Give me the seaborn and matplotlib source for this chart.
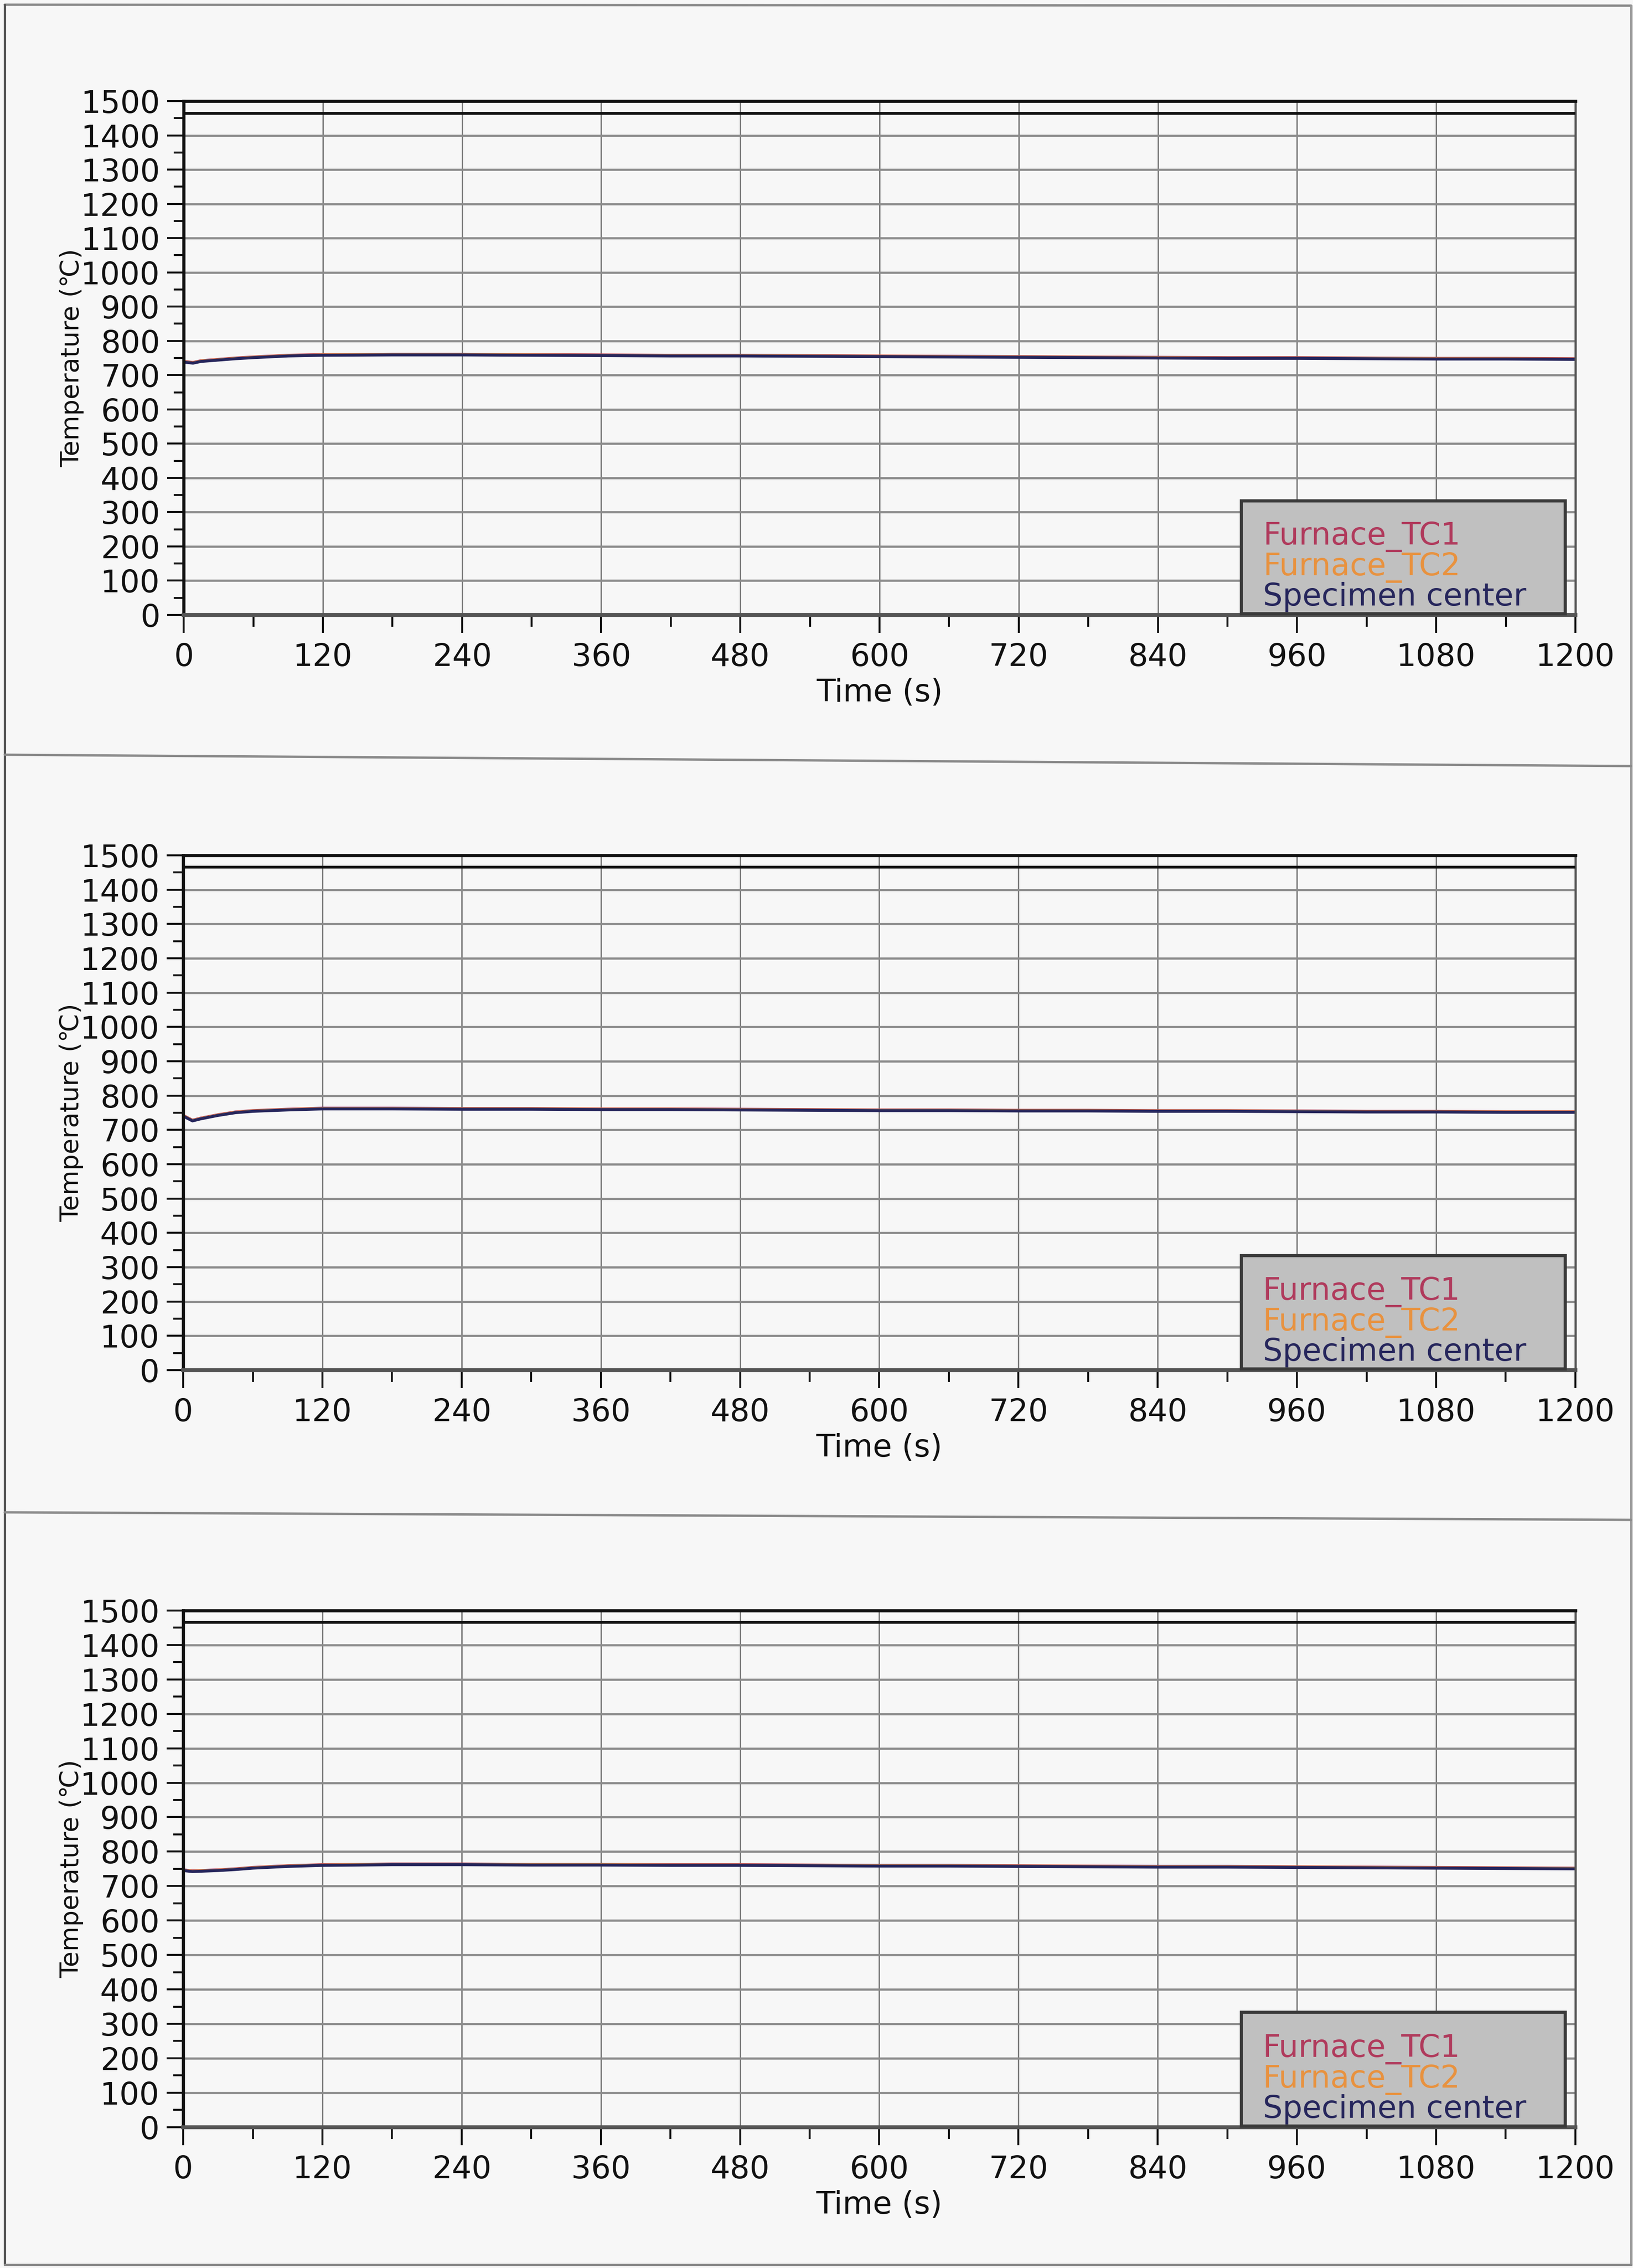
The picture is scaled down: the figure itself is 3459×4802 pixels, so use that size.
import matplotlib
matplotlib.use("Agg")
import numpy as np
import pandas as pd
import matplotlib.pyplot as plt
from matplotlib.lines import Line2D
from matplotlib.patches import Rectangle
from matplotlib.ticker import MultipleLocator
import seaborn as sns

# ---------------------------------------------------------------- data
SERIES = ["Furnace_TC1", "Furnace_TC2", "Specimen center"]
SERIES_COLORS = ["#b03a5c", "#e8923f", "#26265c"]

# sampling times (s), shared by the three tests
time_s = [0, 8, 15, 30, 45, 60, 90, 120, 180, 240, 300, 360, 420,
          480, 540, 600, 660, 720, 780, 840, 900, 960, 1020, 1080, 1140, 1200]

# test 1
t1_furnace_tc1 = [740, 737, 742, 746, 750, 753, 758, 760, 761, 761, 760, 759, 758,
                  758, 757, 756, 755, 754, 753, 752, 751, 751, 750, 749, 749, 748]
t1_furnace_tc2 = [739, 736, 741, 745, 749, 752, 757, 759, 760, 760, 759, 758, 757,
                  757, 756, 755, 754, 753, 752, 751, 750, 750, 749, 748, 748, 747]
t1_specimen = [738, 735, 740, 744, 748, 751, 756, 758, 759, 759, 758, 757, 756,
               756, 755, 754, 753, 752, 751, 750, 749, 749, 748, 747, 747, 746]

# test 2
t2_furnace_tc1 = [742, 728, 734, 744, 752, 756, 760, 763, 763, 762, 762, 761, 761,
                  760, 759, 758, 758, 757, 757, 756, 756, 755, 754, 754, 753, 753]
t2_furnace_tc2 = [741, 727, 733, 743, 751, 755, 759, 762, 762, 761, 761, 760, 760,
                  759, 758, 757, 757, 756, 756, 755, 755, 754, 753, 753, 752, 752]
t2_specimen = [740, 726, 732, 742, 750, 754, 758, 761, 761, 760, 760, 759, 759,
               758, 757, 756, 756, 755, 755, 754, 754, 753, 752, 752, 751, 751]

# test 3
t3_furnace_tc1 = [747, 744, 745, 747, 750, 754, 759, 762, 764, 764, 763, 763, 762,
                  762, 761, 760, 760, 759, 758, 757, 757, 756, 755, 754, 753, 752]
t3_furnace_tc2 = [746, 743, 744, 746, 749, 753, 758, 761, 763, 763, 762, 762, 761,
                  761, 760, 759, 759, 758, 757, 756, 756, 755, 754, 753, 752, 751]
t3_specimen = [745, 742, 743, 745, 748, 752, 757, 760, 762, 762, 761, 761, 760,
               760, 759, 758, 758, 757, 756, 755, 755, 754, 753, 752, 751, 750]

upper_line_level = 1465  # horizontal reference line near the top of each chart

x_ticks = [0, 120, 240, 360, 480, 600, 720, 840, 960, 1080, 1200]
y_ticks = list(range(0, 1501, 100))

tests = [
    (t1_furnace_tc1, t1_furnace_tc2, t1_specimen),
    (t2_furnace_tc1, t2_furnace_tc2, t2_specimen),
    (t3_furnace_tc1, t3_furnace_tc2, t3_specimen),
]

# ---------------------------------------------------------------- style
PAGE = "#f7f7f7"
sns.set_theme(style="ticks")
plt.rcParams["font.family"] = ["DejaVu Sans"]
plt.rcParams["figure.facecolor"] = PAGE
plt.rcParams["axes.facecolor"] = PAGE

W, H, DPI = 3459, 4802, 300
fig = plt.figure(figsize=(W / DPI, H / DPI), dpi=DPI)

# axes rectangles in figure fractions (left, bottom, width, height)
rects = [
    (0.1125, 0.7289, 0.8522, 0.2265),
    (0.1122, 0.3959, 0.8525, 0.2270),
    (0.1122, 0.0621, 0.8525, 0.2278),
]

TICK_FS = 15.8
palette = dict(zip(SERIES, SERIES_COLORS))

for (tc1, tc2, spec), rect in zip(tests, rects):
    ax = fig.add_axes(rect)
    df = pd.DataFrame({
        "Time (s)": time_s * 3,
        "Temperature": tc1 + tc2 + spec,
        "series": [SERIES[0]] * len(time_s) + [SERIES[1]] * len(time_s)
                  + [SERIES[2]] * len(time_s),
    })
    sns.lineplot(data=df, x="Time (s)", y="Temperature", hue="series",
                 hue_order=SERIES, palette=palette, linewidth=1.5,
                 legend=False, ax=ax, estimator=None, sort=False)
    ax.axhline(upper_line_level, color="#111111", lw=1.4, zorder=3)

    ax.set_xlim(0, 1200)
    ax.set_ylim(0, 1500)
    ax.set_xticks(x_ticks)
    ax.set_yticks(y_ticks)
    ax.xaxis.set_minor_locator(MultipleLocator(60))
    ax.yaxis.set_minor_locator(MultipleLocator(50))
    ax.grid(True, which="major", axis="x", color="#7a7a7a", lw=0.7)
    ax.grid(True, which="major", axis="y", color="#8c8c8c", lw=1.1)
    ax.set_axisbelow(True)

    ax.tick_params(axis="both", which="major", labelsize=TICK_FS, colors="#111111",
                   direction="out", width=1.0)
    ax.tick_params(axis="y", which="major", length=8.5, pad=3.5)
    ax.tick_params(axis="y", which="minor", length=5, width=1.0, color="#111111")
    ax.tick_params(axis="x", which="major", length=9, pad=5)
    ax.tick_params(axis="x", which="minor", length=6, width=1.0, color="#111111")

    for side in ("left", "top"):
        ax.spines[side].set_color("#111111")
        ax.spines[side].set_linewidth(1.6)
    ax.spines["bottom"].set_color("#555555")
    ax.spines["bottom"].set_linewidth(2.0)
    ax.spines["right"].set_color("#555555")
    ax.spines["right"].set_linewidth(1.1)

    ax.set_xlabel("Time (s)", fontsize=TICK_FS, color="#111111")
    ax.xaxis.set_label_coords(0.5, -0.122)
    ax.set_ylabel("Temperature (℃)", fontsize=13, color="#111111")
    ax.yaxis.set_label_coords(-0.0716, 0.5)

    # grey legend panel with coloured entry names
    ax.add_patch(Rectangle((0.7598, 0.003), 0.2327, 0.2195, transform=ax.transAxes,
                           facecolor="#c0c0c0", edgecolor="#3a3a3a", lw=1.6,
                           zorder=4, clip_on=False))
    handles = [Line2D([], [], color=c, lw=0) for c in SERIES_COLORS]
    leg = ax.legend(handles, SERIES, loc="lower left",
                    bbox_to_anchor=(0.7755, 0.005),
                    handlelength=0, handletextpad=0, fontsize=TICK_FS,
                    labelcolor=SERIES_COLORS, frameon=False,
                    borderpad=0, labelspacing=-0.02, borderaxespad=0)
    leg.set_zorder(5)

# page frame and separators between the three charts
def page_line(x0, y0, x1, y1, color="#8a8a8a", lw=1.2):
    fig.add_artist(Line2D([x0 / W, x1 / W], [1 - y0 / H, 1 - y1 / H],
                          color=color, lw=lw, transform=fig.transFigure))

page_line(10, 10, 3455, 12)
page_line(10, 10, 10, 4795, color="#555555")
page_line(3455, 12, 3455, 4795, color="#9a9a9a")
page_line(10, 4795, 3455, 4795)
page_line(10, 1598, 3455, 1622)
page_line(10, 3202, 3455, 3218)

fig.savefig("out.png", dpi=DPI, facecolor=PAGE)
